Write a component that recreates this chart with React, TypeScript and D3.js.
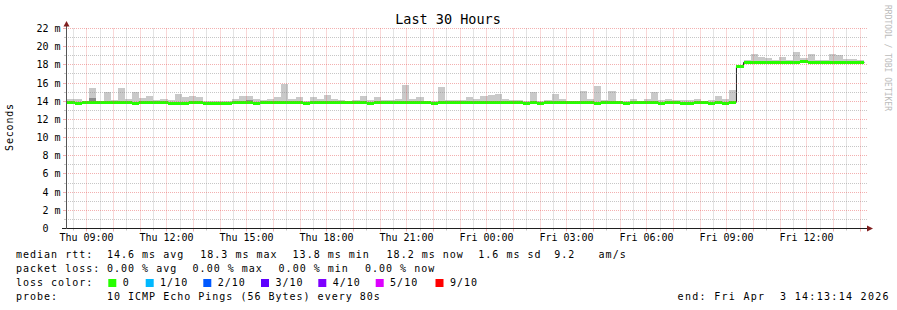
import React, { useEffect } from 'react';
import * as d3 from 'd3';

const W = 897;
const H = 310;

const titleText = 'Last 30 Hours';
const yAxisTitle = 'Seconds';
const watermark = 'RRDTOOL / TOBI OETIKER';

const startTime = new Date(2026, 3, 2, 8, 13, 14);
const endTime = new Date(2026, 3, 3, 14, 13, 14);
const firstBinStart = new Date(2026, 3, 2, 8, 1, 44);
const binSeconds = 960;

// median rtt per 960 s bin (ms)
const medianMs = [
  13.89, 13.89, 13.78, 13.89, 13.89, 13.89, 13.89, 13.89, 13.89, 13.89,
  13.78, 13.89, 13.89, 13.89, 13.89, 13.78, 13.78, 13.78, 13.89, 13.89,
  13.78, 13.78, 13.78, 13.78, 13.89, 13.89, 13.89, 13.78, 13.89, 13.89,
  13.89, 13.89, 13.89, 13.89, 13.78, 13.89, 13.89, 13.89, 13.89, 13.89,
  13.89, 13.89, 13.89, 13.78, 13.89, 13.89, 13.89, 13.89, 13.89, 13.89,
  13.89, 13.89, 13.78, 13.89, 13.89, 13.89, 13.89, 13.89, 13.89, 13.89,
  13.89, 13.89, 13.89, 13.89, 13.89, 13.78, 13.89, 13.78, 13.89, 13.89,
  13.89, 13.89, 13.89, 13.89, 13.89, 13.78, 13.89, 13.89, 13.89, 13.78,
  13.89, 13.89, 13.89, 13.89, 13.78, 13.89, 13.89, 13.78, 13.78, 13.89,
  13.89, 13.78, 13.89, 13.78, 13.89, 17.8, 18.27, 18.27, 18.27, 18.27,
  18.27, 18.27, 18.27, 18.27, 18.4, 18.27, 18.27, 18.27, 18.27, 18.27,
  18.27, 18.27, 18.27,
];

// top of the smoke (max ping) per bin (ms)
const smokeTopMs = [
  14.2, 14.2, 14.2, 14.05, 15.43, 14.05, 15.0, 14.12, 15.43, 14.2,
  15.07, 14.41, 14.63, 14.1, 14.2, 14.1, 14.77, 14.45, 14.55, 14.45,
  14.05, 14.05, 14.05, 14.05, 14.2, 14.55, 14.55, 14.2, 14.1, 14.2,
  14.45, 15.87, 14.3, 14.45, 14.05, 14.45, 14.3, 14.67, 14.2, 14.1,
  14.05, 14.1, 14.55, 14.1, 14.45, 14.1, 14.1, 14.2, 15.77, 14.3,
  14.45, 14.05, 14.05, 15.55, 14.1, 14.1, 14.1, 14.45, 14.3, 14.55,
  14.67, 14.77, 14.2, 14.1, 14.1, 14.05, 15.0, 14.05, 14.1, 14.77,
  14.3, 14.05, 14.05, 15.1, 14.2, 15.66, 14.1, 15.1, 14.05, 14.05,
  14.3, 14.05, 14.2, 15.0, 14.1, 14.22, 14.1, 14.1, 14.15, 14.2,
  14.05, 14.1, 14.55, 14.2, 15.2, 18.0, 18.55, 19.18, 18.86, 18.73,
  18.5, 18.84, 18.56, 19.4, 18.75, 19.18, 18.5, 18.5, 19.18, 19.07,
  18.6, 18.6, 18.5,
];

// darker inner smoke bands (bin index, top in ms)
const darkSmokeBins = [4, 26];
const darkSmokeTops = [14.41, 14.15];

const yTickValues = [0, 2, 4, 6, 8, 10, 12, 14, 16, 18, 20, 22];
const yMinorValues = [1, 3, 5, 7, 9, 11, 13, 15, 17, 19, 21];

const legendLine1 = ['median rtt:', '14.6 ms avg', '18.3 ms max', '13.8 ms min', '18.2 ms now', '1.6 ms sd', '9.2', 'am/s'];
const legendLine1X = [16, 107, 200.3, 292.6, 386.6, 478.3, 554.3, 598.6];
const legendLine2 = ['packet loss:', '0.00 % avg', '0.00 % max', '0.00 % min', '0.00 % now'];
const legendLine2X = [16, 107, 192.6, 278.6, 365];
const lossLabels = ['0', '1/10', '2/10', '3/10', '4/10', '5/10', '9/10'];
const lossColors = ['#26ff00', '#00b8ff', '#0059ff', '#5e00ff', '#7e00ff', '#dd00ff', '#ff0000'];
const lossBoxX = [108.3, 145.7, 203.3, 261, 318.3, 375.7, 435.5];
const probeLabel = 'probe:';
const probeText = '10 ICMP Echo Pings (56 Bytes) every 80s';
const endText = 'end: Fri Apr\u00a0\u00a03 14:13:14 2026';

const MONO = "'DejaVu Sans Mono', monospace";
const SMOKE = '#c9c9c9';
const SMOKE_DARK = '#8c8c8c';
const GRID_MINOR = 'rgba(143,143,143,0.5)';
const GRID_MAJOR = 'rgba(228,80,80,0.45)';
const AXIS = '#1f1f1f';
const ARROW = '#801f1f';

const snap = (v: number) => Math.floor(v) + 0.5;

export default function App() {
  useEffect(() => {
    document.body.style.margin = '0';
  }, []);

  const x = d3.scaleTime().domain([startTime, endTime]).range([66, 866]);
  const y = d3.scaleLinear().domain([0, 22]).range([228.5, 28.5]);

  const binStarts = medianMs.map((_, i) => new Date(firstBinStart.getTime() + i * binSeconds * 1000));
  const binEnd = (i: number) => new Date(binStarts[i].getTime() + binSeconds * 1000);

  const hours = d3.timeHour.range(startTime, endTime);
  const halfHours = d3.timeMinute.every(30)!.range(startTime, endTime).filter((d) => d.getMinutes() === 30);
  const labelHours = hours.filter((d) => d.getHours() % 3 === 0);
  const fmt = d3.timeFormat('%a %H:%M');

  const medianPts: [number, number][] = medianMs.map((m, i) => [x(binStarts[i]), y(m)]);
  medianPts.push([x(binEnd(medianMs.length - 1)), y(medianMs[medianMs.length - 1])]);
  const medianPath = d3.line().curve(d3.curveStepAfter)(medianPts) || '';

  const x0 = 66;
  const x1 = 866;
  const yTop = y(22);
  const yBot = y(0);

  return (
    <svg width={W} height={H} style={{ position: 'absolute', left: 0, top: 0, background: '#fff' }}>
      <defs>
        <clipPath id="plot">
          <rect x={x0} y={yTop - 1} width={x1 - x0} height={yBot - yTop + 1} />
        </clipPath>
      </defs>
      <rect x={0} y={0} width={W} height={H} fill="#ffffff" />

      {/* data */}
      <g clipPath="url(#plot)" shapeRendering="crispEdges">
        {smokeTopMs.map((t, i) =>
          t > medianMs[i] ? (
            <rect
              key={'s' + i}
              x={x(binStarts[i])}
              width={x(binEnd(i)) - x(binStarts[i])}
              y={y(t)}
              height={y(medianMs[i]) - y(t)}
              fill={SMOKE}
            />
          ) : null
        )}
        {darkSmokeBins.map((b, j) => (
          <rect
            key={'d' + j}
            x={x(binStarts[b])}
            width={x(binEnd(b)) - x(binStarts[b])}
            y={y(darkSmokeTops[j])}
            height={y(medianMs[b]) - y(darkSmokeTops[j])}
            fill={SMOKE_DARK}
          />
        ))}
      </g>
      <g clipPath="url(#plot)">
        <path d={medianPath} fill="none" stroke="#202020" strokeWidth={1} />
      </g>
      <g clipPath="url(#plot)" shapeRendering="crispEdges">
        {medianMs.map((m, i) => (
          <rect
            key={'g' + i}
            x={x(binStarts[i])}
            width={x(binEnd(i)) - x(binStarts[i])}
            y={y(m) - 1.5}
            height={3}
            fill={lossColors[0]}
          />
        ))}
      </g>

      {/* grid */}
      <g strokeWidth={1} strokeDasharray="1,1">
        {yMinorValues.map((v) => (
          <line key={'ym' + v} x1={x0} x2={x1 + 2} y1={snap(y(v))} y2={snap(y(v))} stroke={GRID_MINOR} />
        ))}
        {halfHours.map((d) => (
          <line key={'xm' + d.getTime()} x1={snap(x(d))} x2={snap(x(d))} y1={yTop} y2={yBot} stroke={GRID_MINOR} />
        ))}
        {yTickValues.filter((v) => v > 0).map((v) => (
          <line key={'yM' + v} x1={x0} x2={x1 + 2} y1={snap(y(v))} y2={snap(y(v))} stroke={GRID_MAJOR} />
        ))}
        {hours.map((d) => (
          <line key={'xM' + d.getTime()} x1={snap(x(d))} x2={snap(x(d))} y1={yTop} y2={yBot} stroke={GRID_MAJOR} />
        ))}
      </g>
      {/* ticks */}
      <g strokeWidth={1}>
        {yMinorValues.map((v) => (
          <line key={'tym' + v} x1={x0 - 2} x2={x0} y1={snap(y(v))} y2={snap(y(v))} stroke={GRID_MINOR} />
        ))}
        {yTickValues.map((v) => (
          <line key={'tyM' + v} x1={x0 - 3} x2={x0} y1={snap(y(v))} y2={snap(y(v))} stroke={GRID_MAJOR} />
        ))}
        {halfHours.map((d) => (
          <line key={'txm' + d.getTime()} x1={snap(x(d))} x2={snap(x(d))} y1={yBot} y2={yBot + 2} stroke={GRID_MINOR} />
        ))}
        {hours.map((d) => (
          <line key={'txM' + d.getTime()} x1={snap(x(d))} x2={snap(x(d))} y1={yBot} y2={yBot + 3} stroke={GRID_MAJOR} />
        ))}
      </g>

      {/* axes */}
      <line x1={62} x2={867} y1={yBot} y2={yBot} stroke={AXIS} strokeWidth={1} />
      <line x1={66.5} x2={66.5} y1={yBot + 0.5} y2={24} stroke="#555" strokeWidth={1} />
      <polygon points={`867,${yBot - 3} 867,${yBot + 3} 873,${yBot}`} fill={ARROW} />
      <polygon points={`63.5,26.5 69.5,26.5 66.5,21`} fill={ARROW} />

      {/* y labels */}
      <g fontFamily={MONO} fontSize={10} fill="#000">
        {yTickValues.map((v) => (
          <text key={'yl' + v} x={v === 0 ? 48.6 : 60.6} y={snap(y(v)) + 3.5} textAnchor="end">
            {v === 0 ? '0' : `${v} m`}
          </text>
        ))}
        {labelHours.map((d) => (
          <text key={'xl' + d.getTime()} x={snap(x(d))} y={241} textAnchor="middle">
            {fmt(d)}
          </text>
        ))}
      </g>

      {/* title */}
      <text x={448} y={24} textAnchor="middle" fontFamily={MONO} fontSize={13.5} fill="#000">
        {titleText}
      </text>

      {/* y axis title */}
      <text
        transform="translate(13,127) rotate(-90)"
        textAnchor="middle"
        fontFamily={MONO}
        fontSize={10}
        letterSpacing={0.8}
        fill="#000"
      >
        {yAxisTitle}
      </text>

      {/* watermark */}
      <text transform="translate(885,5) rotate(90)" fontFamily={MONO} fontSize={8} fill="#bbbbbb">
        {watermark}
      </text>

      {/* legend */}
      <g fontFamily={MONO} fontSize={10} letterSpacing={1} fill="#000">
        {legendLine1.map((t, i) => (
          <text key={'l1' + i} x={legendLine1X[i]} y={258.3} xmlSpace="preserve">
            {t}
          </text>
        ))}
        {legendLine2.map((t, i) => (
          <text key={'l2' + i} x={legendLine2X[i]} y={272.3} xmlSpace="preserve">
            {t}
          </text>
        ))}
        <text x={16} y={286.3}>loss color:</text>
        {lossLabels.map((t, i) => (
          <g key={'lc' + i}>
            <rect x={lossBoxX[i]} y={279} width={8} height={8} fill={lossColors[i]} />
            <text x={lossBoxX[i] + 14.4} y={286.3}>
              {t}
            </text>
          </g>
        ))}
        <text x={16} y={300.3}>{probeLabel}</text>
        <text x={107} y={300.3}>{probeText}</text>
        <text x={677.6} y={300.3} letterSpacing={1.3} xmlSpace="preserve">
          {endText}
        </text>
      </g>
    </svg>
  );
}
